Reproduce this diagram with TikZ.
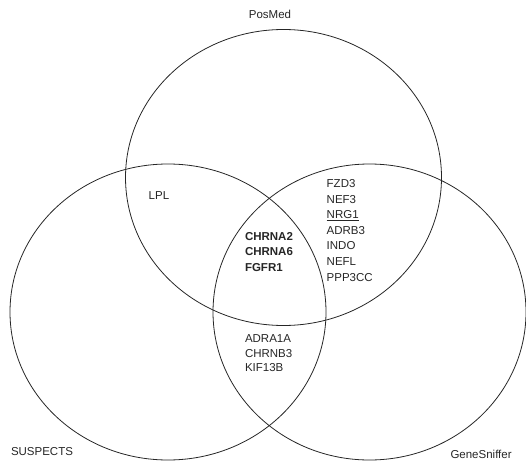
\documentclass[tikz,border=0pt]{standalone}
\usepackage{fontspec}
\setmainfont{Liberation Sans}
\begin{document}
\begin{tikzpicture}[x=1pt,y=-1pt,
  venn/.style={draw=black!85,line width=0.8pt},
  lbl/.style={inner sep=0pt,outer sep=0pt,font=\fontsize{11.5}{15.5}\selectfont,text=black!85},
  grp/.style={lbl,align=left,anchor=north west}]
\useasboundingbox (0,0) rectangle (526,462);
% sets
\draw[venn] (283.5,177.5) ellipse [x radius=158, y radius=148];
\draw[venn] (168,312) ellipse [x radius=158, y radius=148];
\draw[venn] (369.5,312) ellipse [x radius=156.5, y radius=148];
% set names
\node[lbl,anchor=base] (posmed) at (270,18.5) {PosMed};
\node[lbl,anchor=base west] (suspects) at (11,455) {SUSPECTS};
\node[lbl,anchor=base west] (genesniffer) at (450.5,458) {GeneSniffer};
% region contents
\node[lbl,anchor=base west] (lpl) at (148.7,199.7) {LPL};
\node[grp,font=\fontsize{11.5}{15.6}\selectfont] (pg) at (326.7,179.5)
  {FZD3\\NEF3\\\underline{NRG1}\\ADRB3\\INDO\\NEFL\\PPP3CC};
\node[grp,font=\fontsize{11.5}{15.3}\selectfont\bfseries] (all) at (245,232.5)
  {CHRNA2\\CHRNA6\\FGFR1};
\node[grp,font=\fontsize{11.5}{14.7}\selectfont] (sg) at (245,334.5)
  {ADRA1A\\CHRNB3\\KIF13B};
\end{tikzpicture}
\end{document}
